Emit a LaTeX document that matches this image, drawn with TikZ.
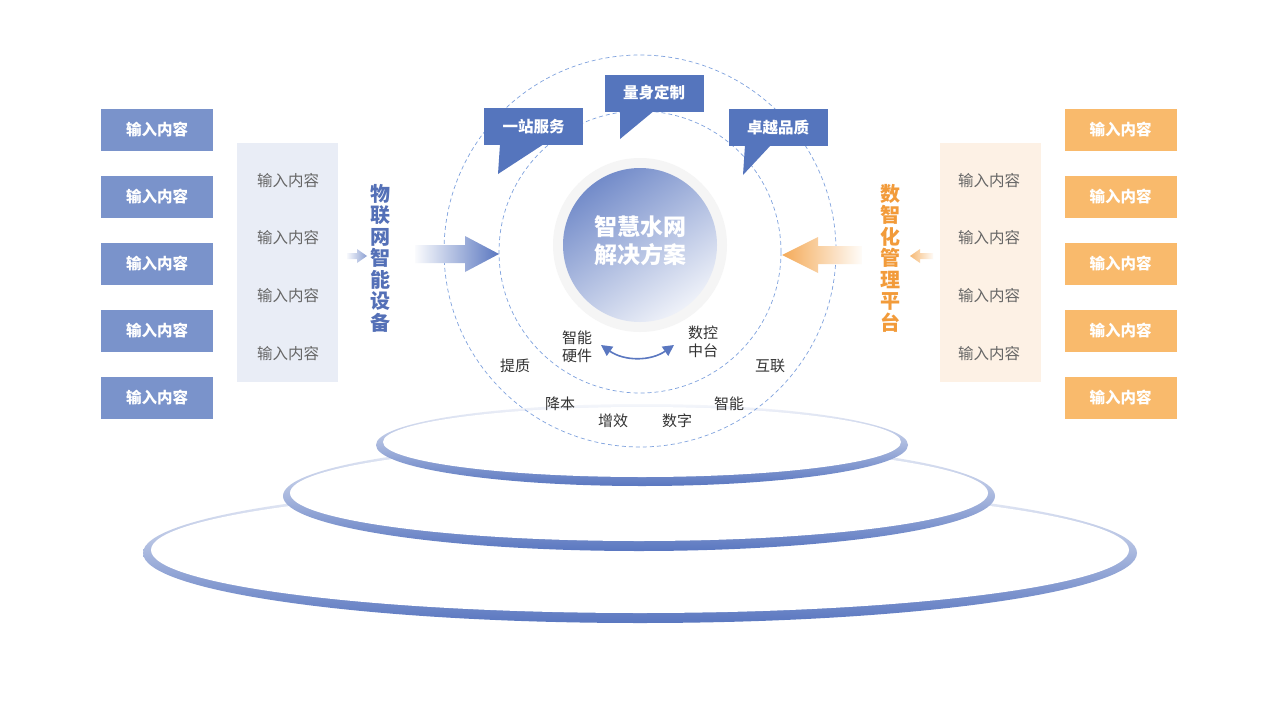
\documentclass[tikz,border=0pt]{standalone}
\usepackage{fontspec}
\setmainfont{Noto Sans CJK SC}
\usetikzlibrary{arrows.meta}

\definecolor{boxblue}{HTML}{7A93CB}
\definecolor{panelblue}{HTML}{E9EDF6}
\definecolor{titleblue}{HTML}{5470B7}
\definecolor{tipblue}{HTML}{5575BD}
\definecolor{ringblue}{HTML}{5A77C0}
\definecolor{dashblue}{HTML}{7FA2DE}
\definecolor{boxorange}{HTML}{F9BA6C}
\definecolor{panelorange}{HTML}{FDF1E5}
\definecolor{titleorange}{HTML}{F29B3A}
\definecolor{greytext}{HTML}{666666}
\definecolor{darktext}{HTML}{333333}

\begin{document}
\begin{tikzpicture}[x=1pt, y=-1pt,
  inbox/.style={minimum width=112pt, minimum height=42pt, inner sep=0pt, text=white, font=\fontsize{15.5}{18}\selectfont\bfseries},
  paneltext/.style={text=greytext, font=\fontsize{15.5}{18}\selectfont},
  vtitle/.style={align=center, font=\fontsize{20}{21.5}\selectfont\bfseries},
  tipbox/.style={fill=tipblue, minimum width=99pt, minimum height=37pt, inner sep=0pt, text=white, font=\fontsize{15.5}{18}\selectfont\bfseries},
  word/.style={text=darktext, align=center, font=\fontsize{15}{18}\selectfont},
  orbit/.style={dashblue, dash pattern=on 4pt off 3pt, line width=0.7pt}]
\useasboundingbox (0,0) rectangle (1280,720);
\fill[white] (0,0) rectangle (1280,720);

\shade[top color=ringblue!6, bottom color=ringblue] (640,553) ellipse (497 and 70);
\fill[white] (640,550) ellipse (489 and 63);
\shade[top color=ringblue!6, bottom color=ringblue] (639,496) ellipse (356 and 55);
\fill[white] (639,493) ellipse (349 and 48);
\shade[top color=ringblue!6, bottom color=ringblue] (642,445) ellipse (266 and 41);
\fill[white] (642,442) ellipse (259 and 35);

\draw[orbit] (640,251) circle (196);
\draw[orbit] (640,252) circle (141);

\fill[black!4] (640,245) circle (87);
\shade[top color=ringblue!85, bottom color=ringblue!10, shading angle=35] (640,245) circle (77);
\node[text=white, align=center, font=\fontsize{23}{28}\selectfont\bfseries] (core) at (640,241) {智慧水网\\解决方案};

\node[tipbox] (serve) at (533.5,126.5) {一站服务};
\fill[tipblue] (500,144) -- (498,174) -- (544,144) -- cycle;
\node[tipbox] (custom) at (654,93) {量身定制};
\fill[tipblue] (620,110) -- (620,139) -- (655,110) -- cycle;
\node[tipbox] (quality) at (778,127.5) {卓越品质};
\fill[tipblue] (745,145) -- (743,175) -- (771,145) -- cycle;

\node[word] (hw) at (577,347) {智能\\硬件};
\node[word] (ctrl) at (703,342) {数控\\中台};
\coordinate (hwend) at (601,345);
\coordinate (ctrlend) at (674,345);
\draw[ringblue, line width=1.6pt, {Triangle[length=11pt,width=11pt]}-{Triangle[length=11pt,width=11pt]}] (hwend) to[bend right=35] (ctrlend);
\node[word] (w1) at (515,366) {提质};
\node[word] (w2) at (770,366) {互联};
\node[word] (w3) at (560,404) {降本};
\node[word] (w4) at (613,421) {增效};
\node[word] (w5) at (677,421) {数字};
\node[word] (w6) at (729,404) {智能};

\shade[left color=ringblue!3, right color=ringblue] (415,245) -- (465,245) -- (465,236) -- (499,254) -- (465,272) -- (465,263) -- (415,263) -- cycle;
\shade[left color=ringblue!5, right color=ringblue!70] (347,253) -- (357,253) -- (357,249) -- (367,256) -- (357,263) -- (357,259) -- (347,259) -- cycle;
\shade[left color=titleorange!85, right color=titleorange!3] (782,255) -- (818,237) -- (818,246) -- (862,246) -- (862,264) -- (818,264) -- (818,273) -- cycle;
\shade[left color=titleorange!70, right color=titleorange!5] (910,256) -- (920,249) -- (920,253) -- (933,253) -- (933,259) -- (920,259) -- (920,263) -- cycle;

\node[vtitle, text=titleblue] (iot) at (380,258) {物\\联\\网\\智\\能\\设\\备};
\node[vtitle, text=titleorange] (mgmt) at (890,258) {数\\智\\化\\管\\理\\平\\台};

\node[fill=panelblue, minimum width=101pt, minimum height=239pt, inner sep=0pt] (lpanel) at (287.5,262.5) {};
\node[paneltext] (l1) at (288,181) {输入内容};
\node[paneltext] (l2) at (288,238) {输入内容};
\node[paneltext] (l3) at (288,296) {输入内容};
\node[paneltext] (l4) at (288,354) {输入内容};

\node[fill=panelorange, minimum width=101pt, minimum height=239pt, inner sep=0pt] (rpanel) at (990.5,262.5) {};
\node[paneltext] (r1) at (989,181) {输入内容};
\node[paneltext] (r2) at (989,238) {输入内容};
\node[paneltext] (r3) at (989,296) {输入内容};
\node[paneltext] (r4) at (989,354) {输入内容};

\foreach \y [count=\i] in {130,197,264,331,398} {
  \node[inbox, fill=boxblue] (lb\i) at (157,\y) {输入内容};
  \node[inbox, fill=boxorange] (rb\i) at (1120.5,\y) {输入内容};
}
\end{tikzpicture}
\end{document}
